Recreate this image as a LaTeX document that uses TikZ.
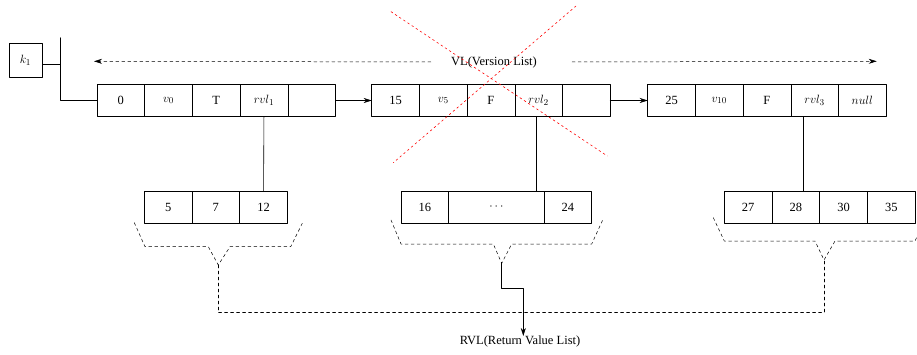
\documentclass[tikz,border=0pt]{standalone}
\usepackage{fontspec}
\setmainfont{Liberation Serif}
\usetikzlibrary{arrows.meta,positioning}

\begin{document}
\begin{tikzpicture}[x=1pt, y=-1pt,
                    line cap=round, line join=round, line width=0.6pt,
                    cell/.style={draw, minimum width=47.7pt, minimum height=32pt,
                                 inner sep=0pt, outer sep=0pt, anchor=west},
                    link/.style={>={Stealth[length=8pt,width=5pt]},->},
                    group/.style={dashed, line width=0.5pt},
                    cross/.style={red, line width=0.6pt, dash pattern=on 2pt off 3pt}]
  \fontsize{12.5}{15}\selectfont
  \useasboundingbox (0,0) rectangle (917,355);
  \def\w{47.7}
  \def\yv{100.5}
  \def\yr{207}

  % version list
  \foreach \t [count=\i] in {0, $v_0$, T, $rvl_1$, {}}
    \node[cell] (a\i) at ({97+(\i-1)*\w},\yv) {\t};
  \foreach \t [count=\i] in {15, $v_5$, F, $rvl_2$, {}}
    \node[cell] (b\i) at ({371.7+(\i-1)*\w},\yv) {\t};
  \foreach \t [count=\i] in {25, $v_{10}$, F, $rvl_3$, $null$}
    \node[cell] (c\i) at ({647.7+(\i-1)*\w},\yv) {\t};

  % key
  \node[draw, minimum width=33pt, minimum height=34pt, inner sep=0pt] (k1) at (25.5,60) {$k_1$};
  \coordinate (kt) at (60,37.7);
  \draw ([yshift=-4pt]k1.east) -- ([yshift=-4pt]k1.east -| kt);
  \draw (kt) |- (a1.west);
  \draw[link] (a5.east) -- (b1.west);
  \draw[link] (b5.east) -- (c1.west);

  \node[inner sep=0pt] (vl) at (494,62) {VL(Version List)};
  \coordinate (vll) at (94,61.3);
  \coordinate (vlr) at (876.7,61.3);
  \draw[group, link] ([xshift=-20pt]vl.west) -- (vll);
  \draw[group, link] ([xshift=35pt]vl.east) -- (vlr);

  % return value lists
  \foreach \t [count=\i] in {5, 7, 12}
    \node[cell] (ra\i) at ({144.3+(\i-1)*\w},\yr) {\t};
  \node[cell] (rb1) at (401,\yr) {16};
  \node[cell, minimum width=95.3pt, right=0pt of rb1] (rb2) {$\cdots$};
  \node[cell, right=0pt of rb2] (rb3) {24};
  \foreach \t [count=\i] in {27, 28, 30, 35}
    \node[cell] (rc\i) at ({724.3+(\i-1)*\w},\yr) {\t};

  \draw (a4.south) -- (ra3.north);
  \draw ([xshift=-2pt]b4.south) -- ([xshift=-2pt]b4.south |- rb2.north);
  \draw ([xshift=-11pt]c4.south) -- ([xshift=-11pt]c4.south |- rc2.north);

  % braces
  \draw[group] (134.3,222.7) -- (145,246.7) -- (208.3,246.7) -- (218.3,265) coordinate (t1)
    -- (230,246.7) -- (290.7,246.7) -- (302.3,223.3);
  \draw[group] (391,220) -- (401,244) -- (493.3,244) -- (501.7,263.3) coordinate (t2)
    -- (511.7,244) -- (591.7,244) -- (602.7,220);
  \draw[group] (713.3,217.7) -- (724.3,241) -- (815,241) -- (824,260) coordinate (t3)
    -- (835,241) -- (915,241) -- (926,217.7);

  \node[inner sep=0pt, anchor=north] (rvl) at (520,336) {RVL(Return Value List)};
  \draw[group] (t1) -- ++(0,47.7) -| (t3);
  \draw[link, line width=0.5pt] (t2) -- ++(0,25) -| ([xshift=3.3pt]rvl.north);

  % crossed out
  \draw[cross] (391,11.7) -- (607.3,156);
  \draw[cross] (576,6) -- (393.3,162.7);
\end{tikzpicture}
\end{document}
